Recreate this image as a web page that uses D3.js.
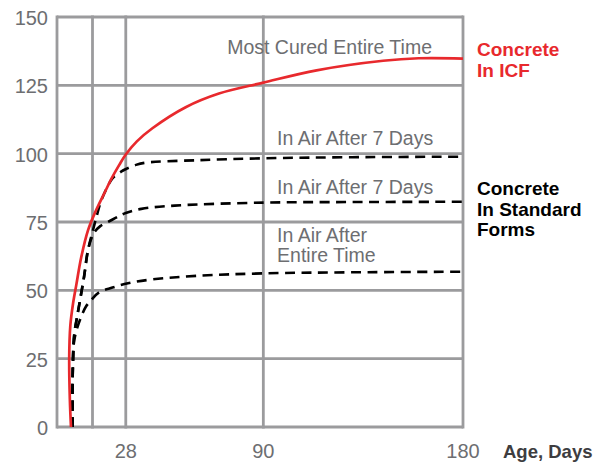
<!DOCTYPE html>
<html>
<head>
<meta charset="utf-8">
<script src="https://cdn.jsdelivr.net/npm/d3@7"></script>
<style>
  body { margin: 0; background: #fff; }
  svg { display: block; font-family: "Liberation Sans", Arial, sans-serif; }
  .grid line { stroke: #9b9b9d; stroke-width: 2.8; }
  .tick-label { fill: #6d6e71; font-size: 20px; }
  .note { fill: #6d6e71; font-size: 19.5px; }
  .legend { font-size: 19px; font-weight: bold; }
</style>
</head>
<body>
<svg width="597" height="464"></svg>
<script>
// ---- data ----
var yTicks = [0, 25, 50, 75, 100, 125, 150];
var xGrid = [13, 28, 90, 180];
var xTickLabels = [28, 90, 180];

// Concrete in ICF (most cured entire time)
var icfDays   = [3.3, 2.8, 2.5, 3.0, 4.2, 5.7, 7.9, 11, 14, 18.5, 21.5, 25, 28, 33, 40, 55, 70, 90, 114, 144, 160, 180];
var icfValues = [0, 10, 25, 37, 45, 52, 62, 72, 78.2, 85.8, 90.8, 95.8, 99.7, 104.5, 109.3, 117, 122, 126, 130.5, 134, 134.9, 134.8];

// Standard forms, in air after 7 days (upper)
var air7aDays   = [4, 4.1, 4.8, 6, 7.4, 9.2, 11, 13.2, 15, 16.8, 19.8, 22, 25.9, 28.1, 32.6, 37, 60, 90, 130, 180];
var air7aValues = [0, 20, 34, 40, 46.5, 55, 64.8, 72, 77.5, 82.5, 88, 91, 93.4, 94.4, 95.9, 96.7, 97.6, 98.3, 98.7, 98.9];

// Standard forms, in air after 7 days (lower)
var air7bDays   = [4, 4.1, 4.8, 6, 7.4, 9.2, 11, 13.5, 16.5, 20, 25, 28, 35, 50, 90, 130, 180];
var air7bValues = [0, 20, 34, 40, 46.5, 55, 64.8, 70.8, 73.5, 75, 77.2, 78.3, 79.8, 81, 82.1, 82.3, 82.4];

// Standard forms, in air after entire time
var airAllDays   = [4, 4.1, 4.5, 5.5, 7.5, 10, 12.5, 16, 22, 29, 40, 60, 90, 130, 180];
var airAllValues = [0, 20, 30, 34.5, 39.5, 44, 46.5, 49.3, 51, 52.6, 54, 55.3, 56.2, 56.6, 56.8];

var notes = [
  {text: 'Most Cured Entire Time', day: 73.7, value: 136.5},
  {text: 'In Air After 7 Days', day: 96.2, value: 103.2},
  {text: 'In Air After 7 Days', day: 96.2, value: 85.2},
  {text: 'In Air After', day: 96.2, value: 67.7},
  {text: 'Entire Time', day: 96.2, value: 60.4}
];

var svg = d3.select('svg');

var x = d3.scaleLinear().domain([-3, 180]).range([57, 463]);
var y = d3.scaleLinear().domain([0, 150]).range([427, 17]);

// grid + frame
var grid = svg.append('g').attr('class', 'grid');
grid.selectAll('.h')
    .data(yTicks)
    .enter()
    .append('line')
    .attr('x1', x(-3)).attr('x2', x(180))
    .attr('y1', d => y(d)).attr('y2', d => y(d));
grid.selectAll('.v')
    .data([-3].concat(xGrid))
    .enter()
    .append('line')
    .attr('x1', d => x(d)).attr('x2', d => x(d))
    .attr('y1', y(0) + 1.4).attr('y2', y(150) - 1.4);

// tick labels
svg.selectAll('.ylab')
    .data(yTicks)
    .enter()
    .append('text')
    .attr('class', 'tick-label')
    .attr('x', 48)
    .attr('y', d => y(d) + 8)
    .attr('text-anchor', 'end')
    .text(d => d);

svg.selectAll('.xlab')
    .data(xTickLabels)
    .enter()
    .append('text')
    .attr('class', 'tick-label')
    .attr('x', d => x(d))
    .attr('y', 458)
    .attr('text-anchor', 'middle')
    .text(d => d);

svg.append('text')
    .attr('x', 503).attr('y', 458)
    .style('font-size', '18.5px').style('font-weight', 'bold').style('fill', '#3d3d3f')
    .text('Age, Days');

// curves
var line = d3.line()
    .x(d => x(d[0]))
    .y(d => y(d[1]))
    .curve(d3.curveCatmullRom.alpha(0.5));

function pairs(days, vals) { return days.map((d, i) => [d, vals[i]]); }

var dashed = [
  pairs(airAllDays, airAllValues),
  pairs(air7bDays, air7bValues),
  pairs(air7aDays, air7aValues)
];

svg.selectAll('.dash')
    .data(dashed)
    .enter()
    .append('path')
    .attr('d', line)
    .attr('fill', 'none')
    .attr('stroke', '#000')
    .attr('stroke-width', 2.6)
    .attr('stroke-dasharray', '10,6.5');

svg.append('path')
    .attr('d', line(pairs(icfDays, icfValues)))
    .attr('fill', 'none')
    .attr('stroke', '#e8292d')
    .attr('stroke-width', 2.7);

// notes
svg.selectAll('.note')
    .data(notes)
    .enter()
    .append('text')
    .attr('class', 'note')
    .attr('x', d => x(d.day))
    .attr('y', d => y(d.value))
    .text(d => d.text);

// legends
var legends = [
  {lines: ['Concrete', 'In ICF'], color: '#e8292d', top: 56},
  {lines: ['Concrete', 'In Standard', 'Forms'], color: '#000', top: 195}
];
legends.forEach(function(lg) {
  lg.lines.forEach(function(t, i) {
    svg.append('text')
        .attr('class', 'legend')
        .attr('x', 477)
        .attr('y', lg.top + i * 20.5)
        .style('fill', lg.color)
        .text(t);
  });
});
</script>
</body>
</html>
